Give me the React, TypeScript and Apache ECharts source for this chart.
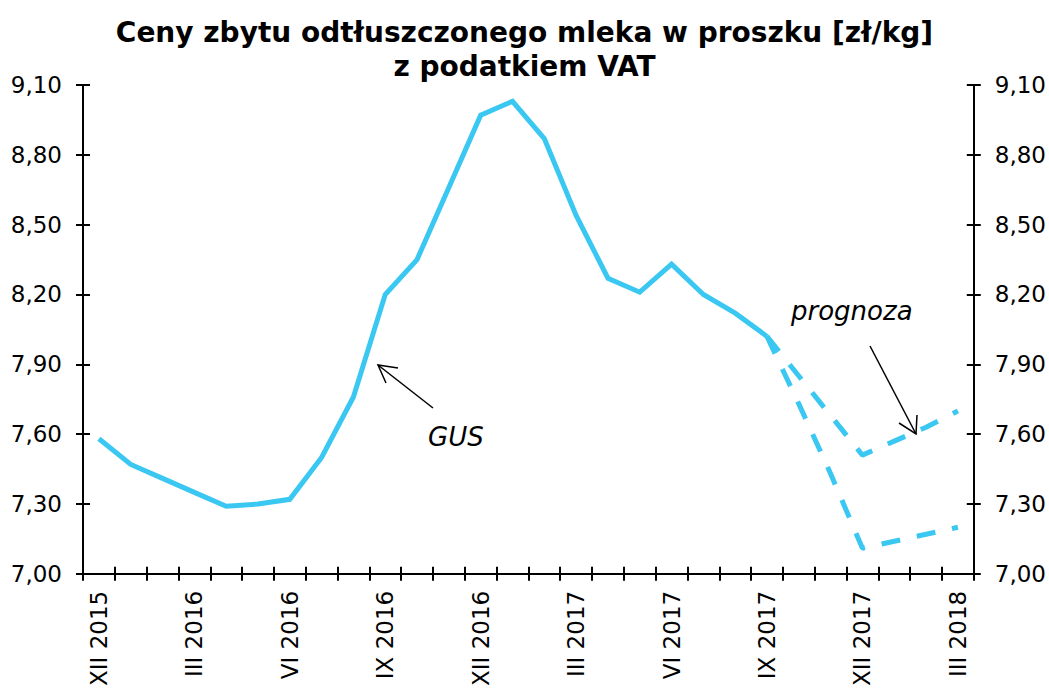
import React, { useEffect, useRef } from "react";
import * as echarts from "echarts";

const categories = [
  "XII 2015",
  "I 2016", "II 2016", "III 2016", "IV 2016", "V 2016", "VI 2016",
  "VII 2016", "VIII 2016", "IX 2016", "X 2016", "XI 2016", "XII 2016",
  "I 2017", "II 2017", "III 2017", "IV 2017", "V 2017", "VI 2017",
  "VII 2017", "VIII 2017", "IX 2017", "X 2017", "XI 2017", "XII 2017",
  "I 2018", "II 2018", "III 2018",
];

const gusValues: (number | null)[] = [
  7.58, 7.47, 7.41, 7.35, 7.29, 7.30, 7.32, 7.50, 7.76, 8.20, 8.35, 8.66,
  8.97, 9.03, 8.87, 8.54, 8.27, 8.21, 8.33, 8.20, 8.12, 8.02,
  null, null, null, null, null, null,
];

const forecastHigh: (number | null)[] = [
  null, null, null, null, null, null, null, null, null, null, null, null,
  null, null, null, null, null, null, null, null, null,
  8.02, 7.85, 7.68, 7.51, 7.57, 7.63, 7.70,
];

const forecastLow: (number | null)[] = [
  null, null, null, null, null, null, null, null, null, null, null, null,
  null, null, null, null, null, null, null, null, null,
  8.02, 7.73, 7.43, 7.11, 7.14, 7.17, 7.20,
];

const yTicks = [7.0, 7.3, 7.6, 7.9, 8.2, 8.5, 8.8, 9.1];

const titleText = "Ceny zbytu odtłuszczonego mleka w proszku [zł/kg]\nz podatkiem VAT";

const LINE_COLOR = "#3AC8F2";
const FONT = "DejaVu Sans";

export default function App() {
  const ref = useRef<HTMLDivElement>(null);

  useEffect(() => {
    if (!ref.current) return;
    const chart = echarts.init(ref.current, null, { renderer: "svg" });
    const fmt = (v: number) => v.toFixed(2).replace(".", ",");
    const axisLine = { show: true, lineStyle: { color: "#000", width: 2 } };
    const yBase = {
      type: "value" as const,
      min: 7,
      max: 9.1,
      splitLine: { show: false },
    };
    const yLabel = {
      customValues: yTicks,
      formatter: fmt,
      color: "#000",
      fontFamily: FONT,
      fontSize: 23,
      margin: 21,
    };
    const tickStyle = { color: "#000", width: 2 };

    chart.setOption({
      animation: false,
      backgroundColor: "#fff",
      title: {
        text: titleText,
        left: "center",
        top: 10,
        textStyle: {
          fontFamily: FONT,
          fontWeight: "bold",
          fontSize: 28,
          lineHeight: 34,
          color: "#000",
        },
      },
      grid: { left: 83, right: 75, top: 85, bottom: 112, containLabel: false },
      xAxis: [
        {
          type: "category",
          data: categories,
          boundaryGap: true,
          axisLine,
          axisTick: { show: true, interval: 0, length: 7, lineStyle: tickStyle },
          axisLabel: {
            interval: 2,
            rotate: 90,
            color: "#000",
            fontFamily: FONT,
            fontSize: 23,
            margin: 17,
          },
          splitLine: { show: false },
        },
        {
          type: "category",
          data: categories,
          boundaryGap: true,
          position: "bottom",
          axisLine: { show: false },
          axisTick: { show: true, inside: true, interval: 0, length: 7, lineStyle: tickStyle },
          axisLabel: { show: false },
          splitLine: { show: false },
        },
      ],
      yAxis: [
        {
          ...yBase,
          position: "left",
          axisLine,
          axisTick: { show: true, length: 7, customValues: yTicks, lineStyle: tickStyle },
          axisLabel: yLabel,
        },
        {
          ...yBase,
          position: "right",
          axisLine,
          axisTick: { show: true, length: 7, customValues: yTicks, lineStyle: tickStyle },
          axisLabel: yLabel,
        },
        {
          ...yBase,
          position: "left",
          axisLine: { show: false },
          axisTick: { show: true, inside: true, length: 7, customValues: yTicks, lineStyle: tickStyle },
          axisLabel: { show: false },
        },
        {
          ...yBase,
          position: "right",
          axisLine: { show: false },
          axisTick: { show: true, inside: true, length: 7, customValues: yTicks, lineStyle: tickStyle },
          axisLabel: { show: false },
        },
      ],
      series: [
        {
          name: "prognoza wysoka",
          type: "line",
          data: forecastHigh,
          symbol: "none",
          lineStyle: { color: LINE_COLOR, width: 5, type: [19, 17], cap: "butt" },
          z: 2,
        },
        {
          name: "prognoza niska",
          type: "line",
          data: forecastLow,
          symbol: "none",
          lineStyle: { color: LINE_COLOR, width: 5, type: [19, 17], cap: "butt" },
          z: 2,
        },
        {
          name: "GUS",
          type: "line",
          data: gusValues,
          symbol: "none",
          lineStyle: { color: LINE_COLOR, width: 5, join: "miter" },
          z: 3,
        },
      ],
      graphic: [
        {
          type: "text",
          x: 428,
          y: 437,
          style: {
            text: "GUS",
            font: `italic 26px "${FONT}"`,
            fill: "#000",
            verticalAlign: "middle",
          },
        },
        {
          type: "polyline",
          shape: { points: [[433, 408], [378, 365]] },
          style: { stroke: "#000", lineWidth: 1.5, fill: "none" },
        },
        {
          type: "polyline",
          shape: { points: [[398, 368], [378, 365], [386, 383]] },
          style: { stroke: "#000", lineWidth: 1.5, fill: "none" },
        },
        {
          type: "text",
          x: 791,
          y: 311,
          style: {
            text: "prognoza",
            font: `italic 26px "${FONT}"`,
            fill: "#000",
            verticalAlign: "middle",
          },
        },
        {
          type: "polyline",
          shape: { points: [[870, 346], [916, 434]] },
          style: { stroke: "#000", lineWidth: 1.5, fill: "none" },
        },
        {
          type: "polyline",
          shape: { points: [[899, 423], [916, 434], [917, 415]] },
          style: { stroke: "#000", lineWidth: 1.5, fill: "none" },
        },
      ],
    });
    return () => chart.dispose();
  }, []);

  return (
    <div
      ref={ref}
      style={{ position: "fixed", left: 0, top: 0, width: 1049, height: 689, background: "#fff" }}
    />
  );
}
